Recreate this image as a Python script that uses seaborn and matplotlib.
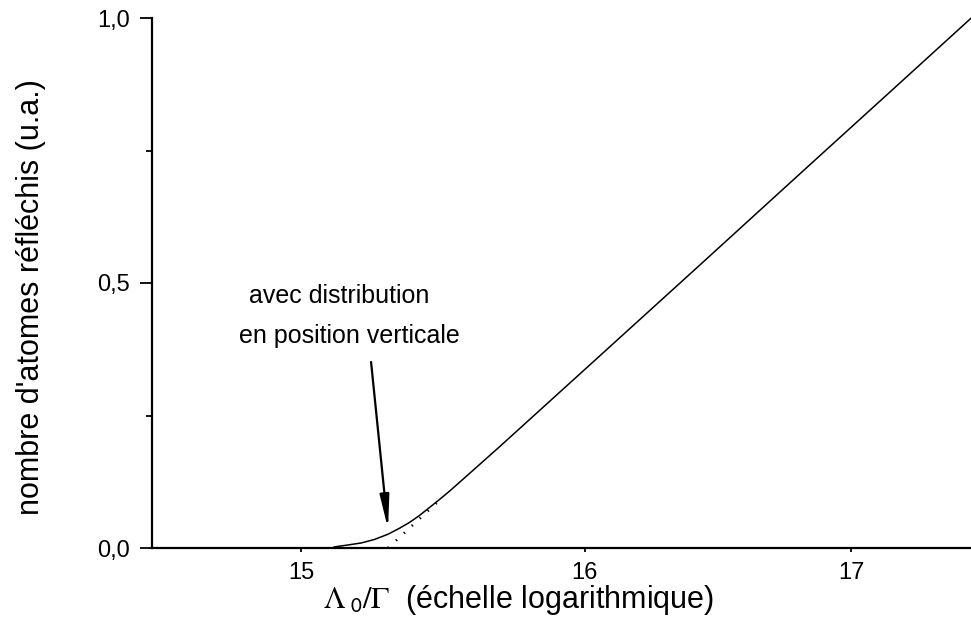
import numpy as np
import pandas as pd
import seaborn as sns
import matplotlib.pyplot as plt
from matplotlib.ticker import NullLocator, FixedLocator

# courbe avec distribution en position verticale
x_curve = [15.113, 15.165, 15.207, 15.252, 15.300, 15.339, 15.374, 15.409, 15.444, 15.479,
           15.515, 15.568, 15.693, 16.054, 16.425, 16.803, 17.191, 17.471]
y_curve = [0.002, 0.006, 0.0095, 0.016, 0.026, 0.037, 0.048, 0.061, 0.076, 0.091,
           0.107, 0.132, 0.191, 0.362, 0.534, 0.706, 0.878, 1.0]

# extrapolation lineaire (pointilles)
x_dots = [15.300, 15.49]
y_dots = [0.0, 0.095]

x_ticks = [15, 16, 17]
x_ticklabels = ["15", "16", "17"]
y_ticks = [0.0, 0.5, 1.0]
y_ticklabels = ["0,0", "0,5", "1,0"]

sns.set_style("white")
plt.rcParams["font.family"] = ["Liberation Sans", "DejaVu Sans"]
plt.rcParams["mathtext.fontset"] = "stix"
plt.rcParams["text.color"] = "black"
plt.rcParams["xtick.color"] = "black"
plt.rcParams["ytick.color"] = "black"

df = pd.DataFrame({"x": x_curve, "y": y_curve})
df_dots = pd.DataFrame({"x": x_dots, "y": y_dots})

fig = plt.figure(figsize=(9.71, 6.25), dpi=100)
ax = fig.add_axes([152 / 971, 1 - 548 / 625, 1 - 152 / 971, (548 - 18) / 625])

sns.lineplot(data=df, x="x", y="y", ax=ax, color="black", linewidth=1.1, clip_on=False)
sns.lineplot(data=df_dots, x="x", y="y", ax=ax, color="black", linewidth=1.9,
             linestyle=(0, (0.5, 3.6)))

ax.set_xscale("log")
ax.set_xlim(14.5, 17.47)
ax.set_ylim(0, 1.0)
ax.xaxis.set_major_locator(FixedLocator(x_ticks))
ax.xaxis.set_minor_locator(NullLocator())
ax.set_xticklabels(x_ticklabels)
ax.set_yticks(y_ticks)
ax.set_yticklabels(y_ticklabels)
ax.yaxis.set_minor_locator(FixedLocator([0.25, 0.75]))

sns.despine(ax=ax)
for s in ["left", "bottom"]:
    ax.spines[s].set_linewidth(1.6)
    ax.spines[s].set_color("black")

ax.tick_params(axis="y", which="major", direction="out", length=9, width=1.3, pad=7, labelsize=17, left=True)
ax.tick_params(axis="y", which="minor", direction="out", length=4, width=1.3, left=True)
ax.tick_params(axis="x", which="major", direction="out", length=3, width=1.3, pad=7, labelsize=17, bottom=True)

ax.set_xlabel("")
ax.set_ylabel("")

fig.text(519 / 971, 1 - 600 / 625, r"$\Lambda_{\mathsf{\ 0}}/\Gamma$  (échelle logarithmique)",
         ha="center", va="center", fontsize=22)
fig.text(31 / 971, 1 - 297 / 625, "nombre d'atomes réfléchis (u.a.)",
         ha="center", va="center", rotation=90, fontsize=22)

ax.text(15.130, 0.475, "avec distribution", ha="center", va="center", fontsize=18)
ax.text(15.165, 0.40, "en position verticale", ha="center", va="center", fontsize=18)
ax.annotate("", xy=(15.300, 0.036), xytext=(15.241, 0.351),
            arrowprops=dict(arrowstyle="-|>,head_length=2.0,head_width=0.28",
                            color="black", linewidth=1.6, shrinkA=0, shrinkB=0))

fig.savefig("out.png", dpi=100)
